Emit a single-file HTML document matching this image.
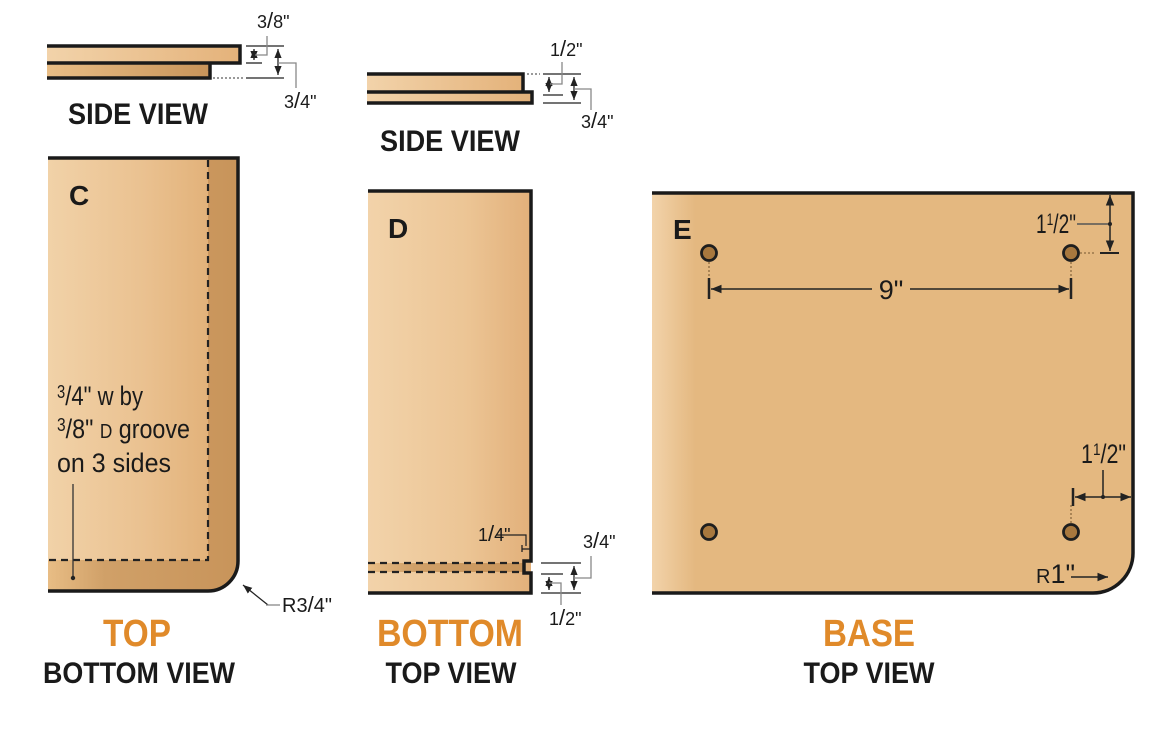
<!DOCTYPE html>
<html><head><meta charset="utf-8"><style>
html,body{margin:0;padding:0;background:#fff;}
svg{display:block;}
text{font-family:"Liberation Sans",sans-serif;}
.h{font-weight:bold;fill:#1a1a1a;}
.o{font-weight:bold;fill:#e08a2a;}
.d{fill:#1a1a1a;}
</style></head><body>
<svg width="1166" height="731" viewBox="0 0 1166 731" xmlns="http://www.w3.org/2000/svg">
<defs>
<linearGradient id="g1" x1="0" x2="1"><stop offset="0" stop-color="#f2d3aa"/><stop offset="1" stop-color="#e4b27a"/></linearGradient>
<linearGradient id="g2" x1="0" x2="1"><stop offset="0" stop-color="#e8bd85"/><stop offset="1" stop-color="#c8945a"/></linearGradient>
<linearGradient id="gC" x1="0" x2="1"><stop offset="0" stop-color="#f1d2a8"/><stop offset="0.6" stop-color="#eac190"/><stop offset="1" stop-color="#e2b27a"/></linearGradient>
<linearGradient id="gD" x1="0" x2="1"><stop offset="0" stop-color="#f2d3aa"/><stop offset="0.6" stop-color="#ecc595"/><stop offset="1" stop-color="#e2b07a"/></linearGradient>
<linearGradient id="gE" x1="0" x2="1"><stop offset="0" stop-color="#f2d3aa"/><stop offset="0.09" stop-color="#e4b880"/><stop offset="1" stop-color="#e4b880"/></linearGradient>
<linearGradient id="gB" x1="0" x2="1"><stop offset="0" stop-color="#e8bd85"/><stop offset="0.3" stop-color="#d0a068"/><stop offset="1" stop-color="#c8945a"/></linearGradient>
<marker id="a" viewBox="0 0 10 10" refX="10" refY="5" markerWidth="7" markerHeight="7" orient="auto-start-reverse"><path d="M0,1 L10,5 L0,9 z" fill="#222"/></marker>
</defs>

<!-- SIDE VIEW 1 -->
<rect x="47" y="46" width="193" height="17" fill="url(#g1)"/>
<rect x="47" y="63" width="163" height="15" fill="url(#g2)"/>
<path d="M47,46 H240 V63 H47 M210,63 V78 H47" fill="none" stroke="#1a1a1a" stroke-width="3.5"/>
<line x1="213" y1="78" x2="243" y2="78" stroke="#333" stroke-dasharray="2,2"/>
<g stroke="#222" stroke-width="1.3" fill="none">
<line x1="246" y1="46" x2="284" y2="46"/><line x1="246" y1="63" x2="262" y2="63"/><line x1="246" y1="78" x2="284" y2="78"/>
<line x1="254" y1="49" x2="254" y2="60" marker-end="url(#a)" marker-start="url(#a)"/>
<line x1="278" y1="49" x2="278" y2="75" marker-end="url(#a)" marker-start="url(#a)"/>
<path d="M255,55 H267 V36" stroke="#888"/>
<path d="M278,63 H296 V88" stroke="#888"/>
</g>
<text x="257" y="28" font-size="18" class="d">3<tspan font-size="22">/</tspan>8"</text>
<text x="284" y="108" font-size="18" class="d">3<tspan font-size="22">/</tspan>4"</text>
<text x="68" y="124" font-size="30" class="h" textLength="140" lengthAdjust="spacingAndGlyphs">SIDE VIEW</text>

<!-- SIDE VIEW 2 -->
<rect x="367" y="74" width="156" height="18" fill="url(#g1)"/>
<rect x="367" y="92" width="165" height="11" fill="url(#g1)"/>
<path d="M367,74 H523 V92 H367 M523,92 H532 V103 H367" fill="none" stroke="#1a1a1a" stroke-width="3.5"/>
<line x1="527" y1="74" x2="540" y2="74" stroke="#333" stroke-dasharray="2,2"/>
<g stroke="#222" stroke-width="1.3" fill="none">
<line x1="543" y1="74" x2="581" y2="74"/><line x1="543" y1="95" x2="563" y2="95"/><line x1="543" y1="103" x2="581" y2="103"/>
<line x1="549" y1="77" x2="549" y2="92" marker-end="url(#a)" marker-start="url(#a)"/>
<line x1="574" y1="77" x2="574" y2="100" marker-end="url(#a)" marker-start="url(#a)"/>
<path d="M550,84 H562 V62" stroke="#888"/>
<path d="M574,89 H591 V110" stroke="#888"/>
</g>
<text x="550" y="56" font-size="18" class="d">1<tspan font-size="22">/</tspan>2"</text>
<text x="581" y="128" font-size="18" class="d">3<tspan font-size="22">/</tspan>4"</text>
<text x="380" y="151" font-size="30" class="h" textLength="140" lengthAdjust="spacingAndGlyphs">SIDE VIEW</text>

<!-- C -->
<path d="M48,158 H238 V561 A30,30 0 0 1 208,591 H48 Z" fill="url(#gB)"/>
<rect x="48" y="158" width="160" height="402" fill="url(#gC)"/>
<path d="M48,158 H238 V561 A30,30 0 0 1 208,591 H48" fill="none" stroke="#1a1a1a" stroke-width="3.5"/>
<path d="M208,160 V560 H48" fill="none" stroke="#222" stroke-width="2.2" stroke-dasharray="7,5"/>
<text x="69" y="205" font-size="28" class="h">C</text>
<g font-size="27" class="d" fill="#222">
<text x="57" y="405" textLength="86" lengthAdjust="spacingAndGlyphs"><tspan font-size="18" dy="-7">3</tspan><tspan dy="7">/4" w by</tspan></text>
<text x="57" y="438" textLength="133" lengthAdjust="spacingAndGlyphs"><tspan font-size="18" dy="-7">3</tspan><tspan dy="7">/8" </tspan><tspan font-size="20">D</tspan> groove</text>
<text x="57" y="472" textLength="114" lengthAdjust="spacingAndGlyphs">on 3 sides</text>
</g>
<line x1="73" y1="484" x2="73" y2="577" stroke="#333" stroke-width="1.3"/>
<circle cx="73" cy="578" r="2.2" fill="#222"/>
<path d="M268,605 L243,585" stroke="#222" stroke-width="1.3" marker-end="url(#a)"/>
<line x1="266" y1="605" x2="280" y2="605" stroke="#888" stroke-width="1.3"/>
<text x="282" y="612" font-size="20" class="d">R3<tspan font-size="22">/</tspan>4"</text>
<text x="137" y="646" font-size="38" class="o" text-anchor="middle" textLength="68" lengthAdjust="spacingAndGlyphs">TOP</text>
<text x="139" y="683" font-size="30" class="h" text-anchor="middle" textLength="192" lengthAdjust="spacingAndGlyphs">BOTTOM VIEW</text>

<!-- D -->
<rect x="368" y="191" width="163" height="402" fill="url(#gD)"/>
<rect x="368" y="563" width="156" height="9" fill="url(#gB)"/>
<path d="M368,191 H531 V561 H524 V573 H531 V593 H368" fill="none" stroke="#1a1a1a" stroke-width="3.5"/>
<g stroke="#222" stroke-width="2.2" stroke-dasharray="7,5"><line x1="368" y1="563" x2="522" y2="563"/><line x1="368" y1="572" x2="522" y2="572"/></g>
<text x="388" y="238" font-size="28" class="h">D</text>
<path d="M496,535 H526 V546" stroke="#222" stroke-width="1.2" fill="none"/>
<line x1="522" y1="545" x2="522" y2="552" stroke="#222" stroke-width="1.3"/><line x1="522" y1="549" x2="530" y2="549" stroke="#222" stroke-width="1.3"/>
<text x="478" y="541" font-size="18" class="d">1<tspan font-size="22">/</tspan>4"</text>
<g stroke="#222" stroke-width="1.3" fill="none">
<line x1="541" y1="563" x2="581" y2="563"/><line x1="541" y1="574" x2="563" y2="574"/><line x1="541" y1="593" x2="581" y2="593"/>
<line x1="549" y1="577" x2="549" y2="590" marker-end="url(#a)" marker-start="url(#a)"/>
<line x1="574" y1="566" x2="574" y2="590" marker-end="url(#a)" marker-start="url(#a)"/>
<path d="M574,578 H591 V556" stroke="#888"/>
<path d="M549,583 H561 V605" stroke="#888"/>
</g>
<text x="583" y="548" font-size="18" class="d">3<tspan font-size="22">/</tspan>4"</text>
<text x="549" y="625" font-size="18" class="d">1<tspan font-size="22">/</tspan>2"</text>
<text x="450" y="646" font-size="38" class="o" text-anchor="middle" textLength="146" lengthAdjust="spacingAndGlyphs">BOTTOM</text>
<text x="451" y="683" font-size="30" class="h" text-anchor="middle" textLength="131" lengthAdjust="spacingAndGlyphs">TOP VIEW</text>

<!-- E -->
<path d="M652,193 H1133 V553 A40,40 0 0 1 1093,593 H652 Z" fill="url(#gE)"/>
<path d="M652,193 H1133 V553 A40,40 0 0 1 1093,593 H652" fill="none" stroke="#1a1a1a" stroke-width="3.5"/>
<text x="673" y="239" font-size="28" class="h">E</text>
<g stroke="#8a6a40" stroke-width="1.3" stroke-dasharray="2,2">
<line x1="709" y1="258" x2="709" y2="278"/><line x1="1071" y1="258" x2="1071" y2="278"/>
<line x1="1076" y1="253" x2="1096" y2="253"/><line x1="1071" y1="505" x2="1071" y2="527"/>
</g>
<g fill="#a8783e" stroke="#1e1e1e" stroke-width="2.8">
<circle cx="709" cy="253" r="7.5"/><circle cx="1071" cy="253" r="7.5"/><circle cx="709" cy="532" r="7.5"/><circle cx="1071" cy="532" r="7.5"/>
</g>
<g stroke="#222" stroke-width="1.5" fill="none">
<line x1="709" y1="278" x2="709" y2="299" stroke-width="2.5"/><line x1="1071" y1="278" x2="1071" y2="299" stroke-width="2.5"/>
<line x1="711" y1="289" x2="872" y2="289" marker-start="url(#a)"/><line x1="910" y1="289" x2="1069" y2="289" marker-end="url(#a)"/>
<line x1="1100" y1="253" x2="1119" y2="253" stroke-width="2"/>
<line x1="1110" y1="195" x2="1110" y2="251" marker-end="url(#a)" marker-start="url(#a)"/>
<line x1="1077" y1="224" x2="1110" y2="224" stroke="#555"/>
<line x1="1073" y1="488" x2="1073" y2="506" stroke-width="2.5"/>
<line x1="1075" y1="497" x2="1131" y2="497" marker-end="url(#a)" marker-start="url(#a)"/>
<line x1="1103" y1="470" x2="1103" y2="497"/>
<line x1="1071" y1="577" x2="1108" y2="577" marker-end="url(#a)"/>
</g>
<circle cx="1110" cy="224" r="2" fill="#222"/><circle cx="1103" cy="497" r="2" fill="#222"/>
<text x="891" y="299" font-size="27" class="d" text-anchor="middle">9"</text>
<text x="1036" y="233" font-size="27" class="d" textLength="40" lengthAdjust="spacingAndGlyphs">1<tspan font-size="17" dy="-8">1</tspan><tspan font-size="27" dy="8">/</tspan>2"</text>
<text x="1081" y="463" font-size="27" class="d" textLength="45" lengthAdjust="spacingAndGlyphs">1<tspan font-size="17" dy="-8">1</tspan><tspan font-size="27" dy="8">/</tspan>2"</text>
<text x="1036" y="583" font-size="20" class="d">R<tspan font-size="27">1"</tspan></text>
<text x="869" y="646" font-size="38" class="o" text-anchor="middle" textLength="92" lengthAdjust="spacingAndGlyphs">BASE</text>
<text x="869" y="683" font-size="30" class="h" text-anchor="middle" textLength="131" lengthAdjust="spacingAndGlyphs">TOP VIEW</text>
</svg>
</body></html>
